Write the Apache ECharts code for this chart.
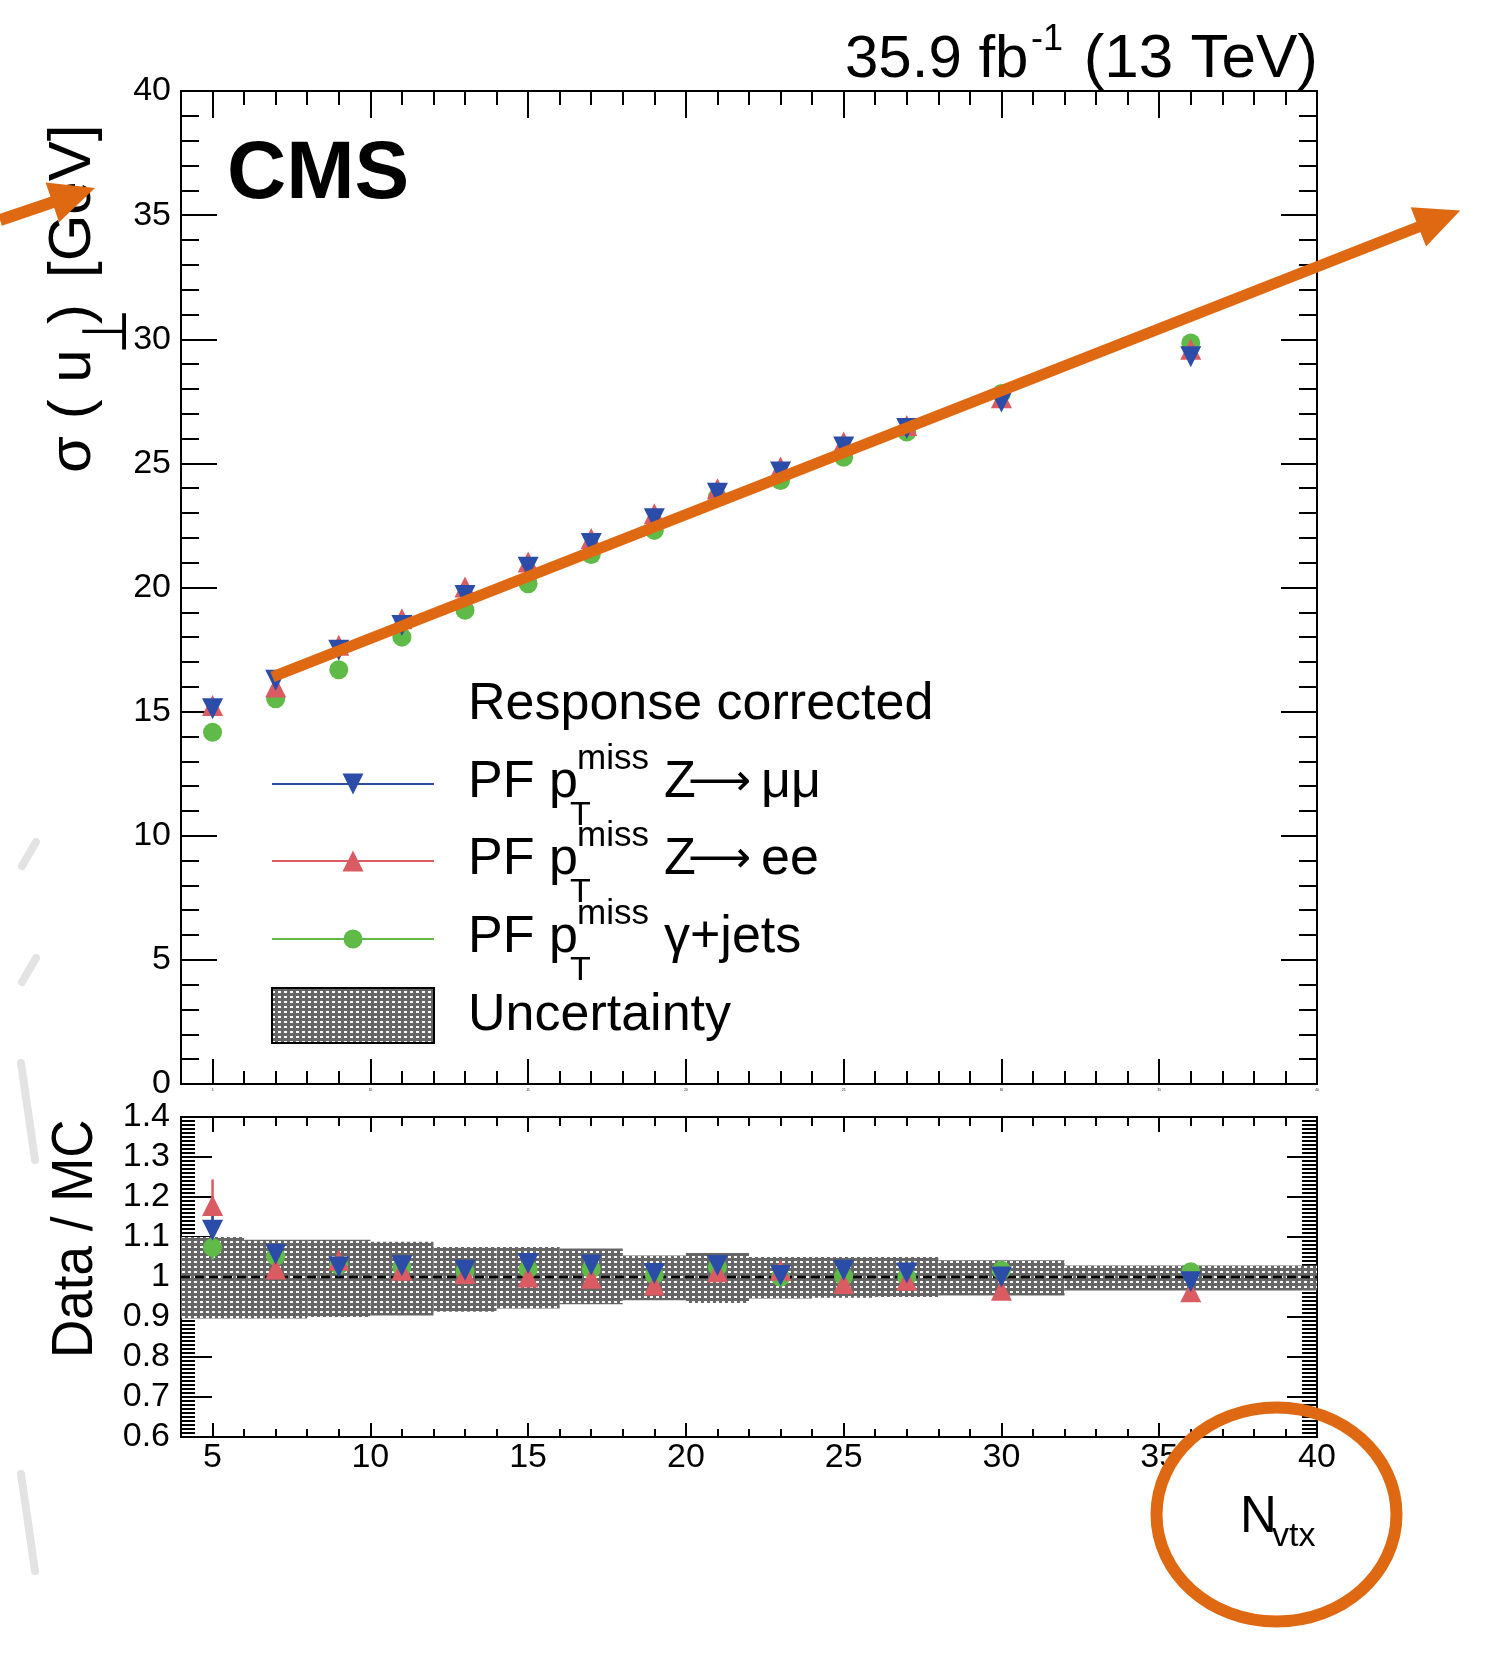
<!DOCTYPE html>
<html>
<head>
<meta charset="utf-8">
<script src="https://cdn.jsdelivr.net/npm/echarts@6/dist/echarts.min.js"></script>
<style>
  html, body { margin: 0; padding: 0; background: #fff; }
  #chart { width: 1487px; height: 1657px; }
</style>
</head>
<body>
<div id="chart"></div>
<script>
// ---- data ---------------------------------------------------------------
const nvtx = [5, 7, 9, 11, 13, 15, 17, 19, 21, 23, 25, 27, 30, 36];

// sigma(u_perp) [GeV], response corrected
const sigmaMuMu  = [15.12, 16.26, 17.47, 18.47, 19.68, 20.82, 21.77, 22.77, 23.80, 24.65, 25.66, 26.40, 27.47, 29.30];
const sigmaEE    = [15.25, 15.99, 17.67, 18.74, 20.02, 21.03, 21.97, 22.97, 23.98, 24.85, 25.86, 26.53, 27.64, 29.60];
const sigmaGamma = [14.17, 15.52, 16.69, 18.00, 19.08, 20.15, 21.33, 22.30, 23.64, 24.31, 25.25, 26.26, 27.81, 29.85];

// Data / MC
const ratioMuMu     = [1.117, 1.057, 1.025, 1.028, 1.017, 1.034, 1.030, 1.009, 1.029, 1.004, 1.017, 1.010, 1.000, 0.988];
const ratioMuMuErr  = [0.058, 0.010, 0.010, 0.010, 0.010, 0.010, 0.010, 0.010, 0.010, 0.010, 0.010, 0.010, 0.010, 0.010];
const ratioEE       = [1.179, 1.020, 1.042, 1.017, 1.009, 1.000, 0.997, 0.980, 1.013, 1.017, 0.984, 0.992, 0.967, 0.963];
const ratioEEErr    = [0.065, 0.012, 0.010, 0.010, 0.010, 0.010, 0.010, 0.010, 0.010, 0.010, 0.010, 0.010, 0.010, 0.010];
const ratioGamma    = [1.074, 1.052, 1.030, 1.025, 1.015, 1.020, 1.020, 1.005, 1.025, 1.000, 1.002, 1.000, 1.017, 1.013];
const ratioGammaErr = [0.030, 0.010, 0.010, 0.010, 0.010, 0.010, 0.010, 0.010, 0.010, 0.010, 0.010, 0.010, 0.010, 0.010];

// systematic uncertainty band on the ratio, per N_vtx bin
const bandEdges = [4, 6, 8, 10, 12, 14, 16, 18, 20, 22, 24, 26, 28, 32, 40];
const bandHigh  = [1.100, 1.093, 1.093, 1.088, 1.075, 1.075, 1.071, 1.054, 1.060, 1.050, 1.050, 1.050, 1.042, 1.029];
const bandLow   = [0.896, 0.896, 0.900, 0.904, 0.913, 0.921, 0.932, 0.942, 0.935, 0.946, 0.948, 0.950, 0.954, 0.966];

const xRange = [4, 40];
const xMajorTicks = [5, 10, 15, 20, 25, 30, 35, 40];
const ratioUnity = 1;

// hand-drawn trend arrow, in (N_vtx, GeV)
const trendArrow = [[6.9, 16.4], [44.54, 35.19]];

// ---- styles -------------------------------------------------------------
const FONT = '"Liberation Sans", Arial, Helvetica, sans-serif';
const SYMBOL_FONT = '"DejaVu Sans", sans-serif';
const ORANGE = '#df6913';
const BLUE = '#2b4da8';
const RED = '#da5b61';
const GREEN = '#5fba47';

function hatchTile() {
  const c = document.createElement('canvas');
  c.width = 6; c.height = 5;
  const g = c.getContext('2d');
  g.fillStyle = '#666666';
  g.fillRect(0, 0, 6, 5);
  g.fillStyle = '#ffffff';
  g.fillRect(2, 1, 3, 2);
  return c;
}
const hatch = { image: hatchTile(), repeat: 'repeat' };

const tick = (len) => ({ show: true, inside: true, length: len, lineStyle: { color: '#000', width: 2 } });
const hiddenLine = { show: false, onZero: false };

function xAxes(grid, pos, minorLen, majorLen, label) {
  return [
    { gridIndex: grid, type: 'value', min: xRange[0], max: xRange[1], interval: 1, position: pos,
      axisLine: hiddenLine, splitLine: { show: false }, axisTick: tick(minorLen), axisLabel: { show: false } },
    { gridIndex: grid, type: 'value', min: xRange[0], max: xRange[1], splitNumber: 7, position: pos,
      axisLine: hiddenLine, splitLine: { show: false },
      axisTick: Object.assign(tick(majorLen), { customValues: xMajorTicks }),
      axisLabel: label || { show: false } }
  ];
}

const xLabelFmt = (v) => (Math.round(v) % 5 === 0 && v >= 5 ? String(Math.round(v)) : '');

const xAxisList = [].concat(
  xAxes(0, 'bottom', 13, 25, { show: true, customValues: xMajorTicks, formatter: xLabelFmt,
                               fontSize: 3, margin: 5, color: '#000', fontFamily: FONT }),
  xAxes(0, 'top', 14, 27),
  xAxes(1, 'bottom', 8, 14, { show: true, customValues: xMajorTicks, formatter: xLabelFmt,
                              fontSize: 34, margin: 4, color: '#000', fontFamily: FONT }),
  xAxes(1, 'top', 9, 15)
);

const yAxisList = [
  { gridIndex: 0, type: 'value', min: 0, max: 40, interval: 5, position: 'left',
    axisLine: hiddenLine, splitLine: { show: false }, axisTick: tick(36),
    minorTick: { show: true, splitNumber: 5, length: 18, lineStyle: { color: '#000', width: 2 } },
    axisLabel: { show: true, margin: 10, fontSize: 34, color: '#000', fontFamily: FONT } },
  { gridIndex: 0, type: 'value', min: 0, max: 40, interval: 5, position: 'right',
    axisLine: hiddenLine, splitLine: { show: false }, axisTick: tick(36),
    minorTick: { show: true, splitNumber: 5, length: 18, lineStyle: { color: '#000', width: 2 } },
    axisLabel: { show: false } },
  { gridIndex: 1, type: 'value', min: 0.6, max: 1.4, interval: 0.1, position: 'left',
    axisLine: hiddenLine, splitLine: { show: false }, axisTick: tick(31),
    minorTick: { show: true, splitNumber: 10, length: 14, lineStyle: { color: '#000', width: 2 } },
    axisLabel: { show: true, margin: 11, fontSize: 34, color: '#000', fontFamily: FONT,
                 formatter: (v) => String(parseFloat(v.toFixed(1))) } },
  { gridIndex: 1, type: 'value', min: 0.6, max: 1.4, interval: 0.1, position: 'right',
    axisLine: hiddenLine, splitLine: { show: false }, axisTick: tick(30),
    minorTick: { show: true, splitNumber: 10, length: 15, lineStyle: { color: '#000', width: 2 } },
    axisLabel: { show: false } }
];

const TOP = { xAxisIndex: 0, yAxisIndex: 0 };
const RATIO = { xAxisIndex: 4, yAxisIndex: 2 };

function scatter(axes, values, color, symbol, rotate, size, z) {
  return Object.assign({
    type: 'scatter', silent: true, z: z,
    data: nvtx.map((x, i) => [x, values[i]]),
    symbol: symbol, symbolRotate: rotate, symbolSize: size,
    itemStyle: { color: color, opacity: 1 }
  }, axes);
}

function errorBars(values, errs, color) {
  return Object.assign({
    type: 'custom', silent: true, z: 3,
    data: nvtx.map((x, i) => [x, values[i] - errs[i], values[i] + errs[i]]),
    renderItem: (params, api) => {
      const a = api.coord([api.value(0), api.value(1)]);
      const b = api.coord([api.value(0), api.value(2)]);
      return { type: 'line', shape: { x1: a[0], y1: a[1], x2: b[0], y2: b[1] },
               style: { stroke: color, lineWidth: 2.5 } };
    }
  }, RATIO);
}

const series = [
  scatter(TOP, sigmaGamma, GREEN, 'circle', 0, 19, 4),
  scatter(TOP, sigmaEE, RED, 'triangle', 0, 21, 5),
  scatter(TOP, sigmaMuMu, BLUE, 'triangle', 180, 21, 6),

  Object.assign({
    type: 'custom', silent: true, z: 1,
    data: bandHigh.map((h, i) => [bandEdges[i], bandEdges[i + 1], bandLow[i], h]),
    renderItem: (params, api) => {
      const p0 = api.coord([api.value(0), api.value(3)]);
      const p1 = api.coord([api.value(1), api.value(2)]);
      return { type: 'rect',
               shape: { x: p0[0], y: p0[1], width: p1[0] - p0[0], height: p1[1] - p0[1] },
               style: { fill: hatch } };
    }
  }, RATIO),

  Object.assign({
    type: 'line', silent: true, z: 2, symbol: 'none',
    data: [[xRange[0], ratioUnity], [xRange[1], ratioUnity]],
    lineStyle: { color: '#000', width: 2.5, type: [9, 5] }
  }, RATIO),

  errorBars(ratioGamma, ratioGammaErr, GREEN),
  errorBars(ratioEE, ratioEEErr, RED),
  errorBars(ratioMuMu, ratioMuMuErr, BLUE),

  scatter(RATIO, ratioGamma, GREEN, 'circle', 0, 19, 4),
  scatter(RATIO, ratioEE, RED, 'triangle', 0, 21, 5),
  scatter(RATIO, ratioMuMu, BLUE, 'triangle', 180, 21, 6)
];

const option = {
  animation: false,
  backgroundColor: '#ffffff',
  grid: [
    { left: 181, top: 91, width: 1136, height: 993, show: true, borderColor: '#000', borderWidth: 2,
      backgroundColor: 'transparent', containLabel: false, outerBoundsMode: 'none' },
    { left: 181, top: 1117, width: 1136, height: 320, show: true, borderColor: '#000', borderWidth: 2,
      backgroundColor: 'transparent', containLabel: false, outerBoundsMode: 'none' }
  ],
  xAxis: xAxisList,
  yAxis: yAxisList,
  series: series
};

const chart = echarts.init(document.getElementById('chart'), null, { renderer: 'canvas' });
chart.setOption(option);

// ---- text and overlays --------------------------------------------------
function txt(text, x, base, size, extra) {
  return { type: 'text', x: x, y: base - 0.33 * size, z: 60, silent: true,
           style: Object.assign({ text: text, fontSize: size, fontFamily: FONT, fill: '#000',
                                  align: 'left', verticalAlign: 'middle' }, extra || {}) };
}
// text reading bottom-to-top; baseX is the screen x of the baseline
function vtxt(text, baseX, startY, size, sy, extra) {
  return { type: 'text', x: baseX - 0.33 * size * sy, y: startY, rotation: Math.PI / 2, scaleY: sy,
           z: 60, silent: true,
           style: Object.assign({ text: text, fontSize: size, fontFamily: FONT, fill: '#000',
                                  align: 'left', verticalAlign: 'middle' }, extra || {}) };
}

function arrow(p0, p1, width, headLen, headW) {
  const dx = p1[0] - p0[0], dy = p1[1] - p0[1];
  const L = Math.hypot(dx, dy);
  const ux = dx / L, uy = dy / L, px = -uy, py = ux;
  const bx = p1[0] - ux * headLen, by = p1[1] - uy * headLen;
  return [
    { type: 'line', z: 100, silent: true,
      shape: { x1: p0[0], y1: p0[1], x2: bx + ux * 3, y2: by + uy * 3 },
      style: { stroke: ORANGE, lineWidth: width, lineCap: 'butt' } },
    { type: 'polygon', z: 100, silent: true,
      shape: { points: [[p1[0], p1[1]], [bx + px * headW / 2, by + py * headW / 2], [bx - px * headW / 2, by - py * headW / 2]] },
      style: { fill: ORANGE } }
  ];
}

function legendRow(y, color, marker, process, usesArrow) {
  const items = [
    { type: 'line', z: 60, silent: true, shape: { x1: 272, y1: y, x2: 434, y2: y },
      style: { stroke: color, lineWidth: 2 } }
  ];
  const cx = 353, s = 21;
  if (marker === 'circle') {
    items.push({ type: 'circle', z: 61, silent: true, shape: { cx: cx, cy: y, r: 9.5 }, style: { fill: color } });
  } else if (marker === 'up') {
    items.push({ type: 'polygon', z: 61, silent: true,
      shape: { points: [[cx, y - s / 2], [cx + s / 2, y + s / 2], [cx - s / 2, y + s / 2]] }, style: { fill: color } });
  } else {
    items.push({ type: 'polygon', z: 61, silent: true,
      shape: { points: [[cx, y + s / 2], [cx + s / 2, y - s / 2], [cx - s / 2, y - s / 2]] }, style: { fill: color } });
  }
  items.push(txt('PF p', 468, y + 16, 52));
  items.push(txt('miss', 577, y - 13, 35));
  items.push(txt('T', 570, y + 43, 34));
  if (usesArrow) {
    items.push(txt('Z', 664, y + 16, 52));
    items.push({ type: 'text', x: 688, y: y, z: 60, silent: true,
                 style: { text: '⟶', fontSize: 44, fontFamily: SYMBOL_FONT, fill: '#000',
                          align: 'left', verticalAlign: 'middle' } });
    items.push(txt(process, 761, y + 16, 52));
  } else {
    items.push(txt(process, 664, y + 16, 52));
  }
  return items;
}

const p0 = chart.convertToPixel(TOP, trendArrow[0]);
const p1 = chart.convertToPixel(TOP, trendArrow[1]);

const graphics = [].concat(
  // faint marks in the left margin
  [[22, 866, 36, 842], [22, 982, 36, 958], [21, 1063, 35, 1160], [21, 1474, 35, 1571]].map((s) => ({
    type: 'line', z: 0, silent: true, shape: { x1: s[0], y1: s[1], x2: s[2], y2: s[3] },
    style: { stroke: '#e3e3e3', lineWidth: 8, lineCap: 'round' }
  })),

  // header
  [txt('35.9 fb', 845, 80, 60), txt('-1', 1031, 52, 36), txt('(13 TeV)', 1318, 80, 62, { align: 'right' })],
  [txt('CMS', 227, 202, 82, { fontWeight: 'bold' })],

  // axis titles
  [vtxt('σ ( u', 93, 473, 60, 1.0),
   vtxt('⊥', 130, 354, 52, 1.2, { fontFamily: SYMBOL_FONT }),
   vtxt(')', 93, 324, 60, 1.0),
   vtxt('[GeV]', 93, 278, 60, 1.0),
   vtxt('Data / MC', 95, 1358, 53, 1.1),
   txt('N', 1240, 1535, 51),
   txt('vtx', 1272, 1548, 34)],

  // legend
  [txt('Response corrected', 468, 722, 52)],
  legendRow(784, BLUE, 'down', 'μμ', true),
  legendRow(861, RED, 'up', 'ee', true),
  legendRow(939, GREEN, 'circle', 'γ+jets', false),
  [{ type: 'rect', z: 60, silent: true, shape: { x: 272, y: 988, width: 162, height: 55 },
     style: { fill: hatch, stroke: '#000', lineWidth: 2 } },
   txt('Uncertainty', 468, 1033, 52)],

  // orange annotations
  arrow(p0, p1, 11, 45, 42),
  arrow([0, 220], [95, 188], 12, 45, 42),
  [{ type: 'ellipse', z: 100, silent: true, shape: { cx: 1276.5, cy: 1514.5, rx: 120, ry: 107 },
     style: { fill: 'none', stroke: ORANGE, lineWidth: 12 } }]
);

chart.setOption({ graphic: graphics });
</script>
</body>
</html>
